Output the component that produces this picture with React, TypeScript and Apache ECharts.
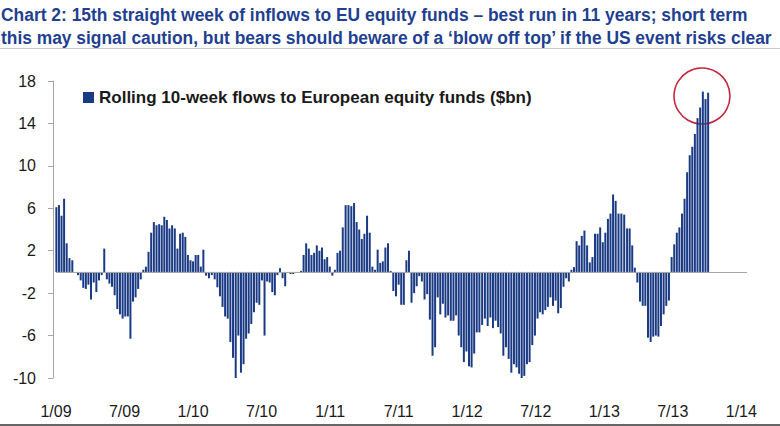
import React, { useEffect, useRef } from 'react';
import * as echarts from 'echarts';

// Rolling 10-week flows to European equity funds ($bn), weekly, first week ending 2 Jan 2009
const flows2009 = [6.1, 6.3, 5.3, 6.9, 2.7, 1.3, 1.1, -0.1, -0.3, -0.8, -1.5, -1.6, -1.2, -2.6, -1.0, -1.9, -0.8, -0.3, 2.2, -0.7, -1.1, -1.4, -2.2, -3.5, -4.0, -4.4, -4.2, -4.2, -6.3, -2.8, -2.4, -1.6, -0.7, 0.2, 0.5, 1.9, 3.7, 4.7, 4.4, 4.5, 4.4, 5.2, 4.9, 4.1, 4.4, 4.1, 2.2, 3.6, 3.7, 3.3, 1.6, 1.1];
const flows2010 = [1.0, 1.6, 1.6, 0.5, 2.1, -0.35, -0.6, -0.3, -0.7, -1.45, -2.3, -3.3, -4.2, -4.4, -6.6, -8.1, -10.3, -6.0, -9.5, -8.7, -6.3, -5.8, -4.9, -3.8, -2.9, -3.1, -0.8, -6.0, -0.9, -1.0, -1.9, -2.2, -0.3, 0.35, -0.6, -1.35, -0.1, -0.2, -0.2, -0.1, -0.1, 0.1, 1.6, 2.7, 2.2, 1.6, 1.8, 2.5, 2.0, 2.3, 1.2, 1.4];
const flows2011 = [0.5, -0.35, 0.2, 1.8, 2.0, 4.2, 6.3, 6.3, 6.2, 6.5, 4.7, 4.0, 3.1, 3.6, 5.3, 3.7, 0.5, 0.2, 2.1, 0.85, 1.0, 2.3, 2.7, 0.1, -1.8, -2.3, -1.2, -3.1, -3.1, 1.1, 2.0, -2.9, -2.0, -1.35, -0.4, -0.9, -2.6, -2.1, -4.5, -7.9, -7.1, -2.4, -4.0, -3.0, -4.3, -4.1, -4.6, -4.6, -4.1, -6.0, -7.1, -8.5];
const flows2012 = [-7.5, -8.9, -9.0, -7.7, -5.7, -5.7, -5.0, -4.4, -5.1, -4.3, -5.3, -4.6, -5.2, -5.8, -7.9, -7.1, -8.2, -9.5, -8.7, -9.0, -9.6, -10.3, -9.8, -8.7, -8.5, -6.9, -6.0, -4.4, -3.8, -4.0, -3.6, -3.3, -2.4, -3.2, -2.7, -3.9, -3.4, -1.4, -0.6, -0.9, 0.2, 0.45, 2.9, 2.5, 3.4, 3.9, 2.5, 0.9, 1.4, 3.6, 3.6, 4.2];
const flows2013 = [2.8, 3.7, 5.0, 5.5, 7.3, 6.7, 5.5, 5.5, 5.4, 4.1, 4.1, 2.5, 0.4, -1.0, -2.8, -3.2, -3.2, -6.2, -6.6, -6.1, -6.0, -6.1, -5.1, -4.0, -3.2, -2.7, 1.4, 2.6, 3.7, 4.2, 5.5, 6.9, 9.4, 11.0, 11.8, 13.0, 14.5, 15.5, 17.0, 16.3, 16.9];

const FIRST_WEEK = '2009-01-02';
const AXIS_START_YEAR = 2009;
const yTickLabels = [-10, -6, -2, 2, 6, 10, 14, 18];

const titleLines = [
  'Chart 2: 15th straight week of inflows to EU equity funds \u2013 best run in 11 years; short term',
  'this may signal caution, but bears should beware of a \u2018blow off top\u2019 if the US event risks clear',
];
const seriesName = 'Rolling 10-week flows to European equity funds ($bn)';

const allFlows = [...flows2009, ...flows2010, ...flows2011, ...flows2012, ...flows2013];

function monthPos(d: Date) {
  const y = d.getUTCFullYear();
  const m = d.getUTCMonth();
  const day = d.getUTCDate();
  const dim = new Date(Date.UTC(y, m + 1, 0)).getUTCDate();
  return (y - AXIS_START_YEAR) * 12 + m + (day - 1) / dim;
}

const start = new Date(FIRST_WEEK + 'T00:00:00Z').getTime();
const barData = allFlows.map((v, i) => [monthPos(new Date(start + i * 7 * 86400000)), v]);

const TITLE_FONT = 'bold 19px "Liberation Sans", Arial, sans-serif';

function measure(text: string, font: string) {
  try {
    const c = document.createElement('canvas').getContext('2d');
    if (!c) return 0;
    c.font = font;
    return c.measureText(text).width;
  } catch (e) {
    return 0;
  }
}

export default function App() {
  const ref = useRef<HTMLDivElement>(null);
  useEffect(() => {
    const chart = echarts.init(ref.current as HTMLDivElement, null, { renderer: 'svg' });
    const font = '"Liberation Sans", Arial, sans-serif';
    const targets = [747, 772];
    const titleEls = titleLines.map((t, i) => {
      const w = measure(t, TITLE_FONT);
      const sx = w > 0 ? targets[i] / w : 0.8;
      return {
        type: 'text',
        x: 1,
        y: i === 0 ? 14 : 38,
        scaleX: sx,
        scaleY: 1,
        style: {
          text: t,
          font: TITLE_FONT,
          fill: '#1f3f91',
          verticalAlign: 'middle',
          align: 'left',
        },
      };
    });
    const option = {
      animation: false,
      backgroundColor: '#ffffff',
      grid: { left: 56, right: 33, top: 81, bottom: 48, containLabel: false },
      legend: {
        show: true,
        left: 78,
        top: 84,
        itemWidth: 11,
        itemHeight: 11,
        icon: 'rect',
        data: [seriesName],
        textStyle: { fontFamily: font, fontWeight: 'bold', fontSize: 17, color: '#1a1a1a' },
      },
      xAxis: {
        type: 'value',
        min: 0,
        max: 60.5,
        interval: 6,
        axisLine: { show: false },
        axisTick: { show: false },
        splitLine: { show: false },
        axisLabel: {
          margin: 25,
          fontFamily: font,
          fontSize: 16,
          color: '#1a1a1a',
          showMaxLabel: false,
          formatter: (m: number) => {
            if (Math.abs(m - Math.round(m)) > 1e-6) return '';
            const mm = Math.round(m);
            const yy = AXIS_START_YEAR + Math.floor(mm / 12);
            return `${(mm % 12) + 1}/${String(yy % 100).padStart(2, '0')}`;
          },
        },
      },
      yAxis: [
        { type: 'value', min: -10, max: 18, show: false },
        {
          type: 'value',
          position: 'left',
          offset: 3,
          min: 0,
          max: 28,
          interval: 4,
          axisLine: { show: true, lineStyle: { color: '#a6a6a6', width: 1 } },
          axisTick: { show: true, length: 5, lineStyle: { color: '#a6a6a6' } },
          splitLine: { show: false },
          axisLabel: {
            margin: 17,
            fontFamily: font,
            fontSize: 16,
            color: '#1a1a1a',
            formatter: (v: number) => String(yTickLabels[Math.round(v / 4)] ?? ''),
          },
        },
      ],
      series: [
        {
          name: seriesName,
          type: 'bar',
          xAxisIndex: 0,
          yAxisIndex: 0,
          barWidth: 2,
          itemStyle: { color: '#1a3a84' },
          data: barData,
          markLine: {
            silent: true,
            symbol: 'none',
            label: { show: false },
            lineStyle: { color: '#a6a6a6', width: 1, type: 'solid' },
            data: [{ yAxis: 0 }],
          },
        },
      ],
      graphic: [
        ...titleEls,
        {
          type: 'line',
          shape: { x1: 0, y1: 48.5, x2: 780, y2: 48.5 },
          style: { stroke: '#c8c8c8', lineWidth: 1 },
        },
        {
          type: 'line',
          shape: { x1: 0, y1: 425, x2: 780, y2: 425 },
          style: { stroke: '#333333', lineWidth: 1.5 },
        },
        {
          type: 'circle',
          shape: { cx: 702, cy: 96, r: 28 },
          style: { fill: 'none', stroke: '#c4283e', lineWidth: 1.6 },
        },
      ],
    };
    chart.setOption(option as any);
    return () => chart.dispose();
  }, []);
  return (
    <div
      ref={ref}
      style={{ position: 'fixed', left: 0, top: 0, width: 780, height: 426, background: '#ffffff' }}
    />
  );
}
